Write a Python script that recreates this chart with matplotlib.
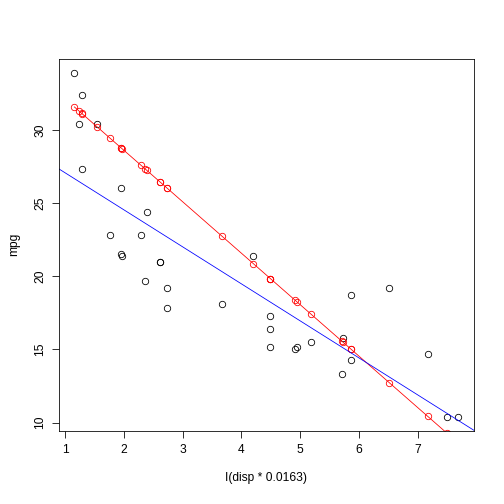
import numpy as np
import matplotlib
matplotlib.use("Agg")
import matplotlib.pyplot as plt

plt.rcParams['font.family'] = ['Liberation Sans', 'DejaVu Sans']

# mtcars
mpg = [21.0, 21.0, 22.8, 21.4, 18.7, 18.1, 14.3, 24.4, 22.8, 19.2, 17.8, 16.4,
       17.3, 15.2, 10.4, 10.4, 14.7, 32.4, 30.4, 33.9, 21.5, 15.5, 15.2, 13.3,
       19.2, 27.3, 26.0, 30.4, 15.8, 19.7, 15.0, 21.4]
disp = [160, 160, 108, 258, 360, 225, 360, 146.7, 140.8, 167.6, 167.6, 275.8,
        275.8, 275.8, 472, 460, 440, 78.7, 75.7, 71.1, 120.1, 318, 304, 350,
        400, 79, 120.3, 95.1, 351, 145, 301, 121]

# red fitted line
red_intercept = 35.64
red_slope = -3.515

x = np.array(disp) * 0.0163
y = np.array(mpg)

# blue: ordinary least squares of mpg on litres
b_slope, b_int = np.polyfit(x, y, 1)

order = np.argsort(x)
xs = x[order]
red_fit = red_intercept + red_slope * xs

fig = plt.figure(figsize=(7, 7), dpi=72)
ax = fig.add_axes([59 / 504, 73.4 / 504, (504 - 59 - 30.2) / 504, (504 - 59 - 73.4) / 504])

ax.plot(x, y, 'o', mfc='none', mec='black', ms=6.4, mew=0.8)
ax.plot(xs, red_fit, color='red', lw=0.8)
ax.plot(xs, red_fit, 'o', mfc='none', mec='red', ms=6.4, mew=0.8)

xr = x.max() - x.min()
yr = y.max() - y.min()
xlo, xhi = x.min() - 0.04 * xr, x.max() + 0.04 * xr
ylo, yhi = y.min() - 0.04 * yr, y.max() + 0.04 * yr
ax.set_xlim(xlo, xhi)
ax.set_ylim(ylo, yhi)

ax.axline((0, b_int), slope=b_slope, color='blue', lw=0.8)

ax.set_xticks([1, 2, 3, 4, 5, 6, 7])
ax.set_yticks([10, 15, 20, 25, 30])
ax.tick_params(length=7, width=0.8, labelsize=12, pad=6)
for lab in ax.get_yticklabels():
    lab.set_rotation(90)
    lab.set_va('center')
for s in ax.spines.values():
    s.set_linewidth(0.8)

ax.set_xlabel('I(disp * 0.0163)', fontsize=12, labelpad=16)
ax.set_ylabel('mpg', fontsize=12, labelpad=14)

fig.savefig('out.png', dpi=72)
